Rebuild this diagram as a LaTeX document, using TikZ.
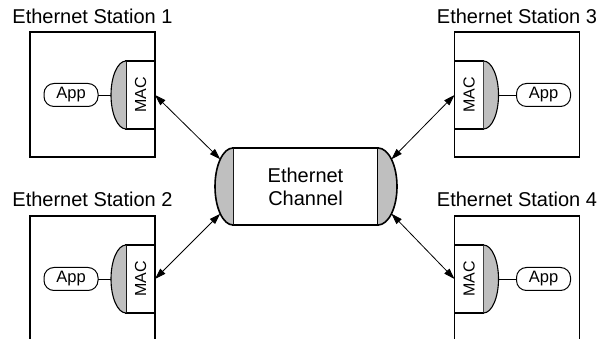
\documentclass[tikz,border=0pt]{standalone}
\usepackage{fontspec}
\setmainfont{Liberation Sans}
\usetikzlibrary{positioning,arrows.meta}

\begin{document}
\begin{tikzpicture}[x=1pt, y=1pt, every node/.style={outer sep=0pt},
        station/.style={rectangle, draw, line width=1.6pt, minimum width=125pt, inner sep=0pt},
        mac/.style={rectangle, draw, line width=1.1pt, minimum width=29pt, minimum height=68pt,
            inner sep=0pt, font=\fontsize{16}{18}\selectfont},
        app/.style={rectangle, rounded corners=10pt, draw, line width=1pt, minimum width=54pt,
            minimum height=23pt, inner sep=0pt, font=\fontsize{16.5}{18}\selectfont},
        title/.style={anchor=base, inner sep=0pt, font=\fontsize{20}{23}\selectfont},
        link/.style={line width=0.8pt, {Triangle[length=11pt,width=7pt]}-{Triangle[length=11pt,width=7pt]}},
        shade/.style={draw, line width=1.1pt, fill=black!25}]
    \useasboundingbox (0,0) rectangle (601,339);
    % stations
    \node[station, minimum height=125pt] (st1) at (92.5,244.5) {};
    \node[station, minimum height=125pt] (st3) at (517,244.5) {};
    \node[station, minimum height=160pt] (st2) at (92.5,43) {};
    \node[station, minimum height=160pt] (st4) at (517,43) {};
    \node[title] (name1) at ([yshift=8pt]st1.north) {Ethernet Station 1};
    \node[title] (name2) at ([yshift=9pt]st2.north) {Ethernet Station 2};
    \node[title] (name3) at ([yshift=8pt]st3.north) {Ethernet Station 3};
    \node[title] (name4) at ([yshift=9pt]st4.north) {Ethernet Station 4};
    % MAC blocks
    \node[mac, anchor=north east] (mac1) at ([yshift=-29pt]st1.north east) {\rotatebox{90}{MAC}};
    \node[mac, anchor=north east] (mac2) at ([yshift=-29pt]st2.north east) {\rotatebox{90}{MAC}};
    \node[mac, anchor=north west] (mac3) at ([yshift=-29pt]st3.north west) {\rotatebox{90}{MAC}};
    \node[mac, anchor=north west] (mac4) at ([yshift=-29pt]st4.north west) {\rotatebox{90}{MAC}};
    \draw[shade] (mac1.north west) arc[start angle=90, end angle=270, x radius=15pt, y radius=34pt];
    \draw[shade] (mac2.north west) arc[start angle=90, end angle=270, x radius=15pt, y radius=34pt];
    \draw[shade] (mac3.north east) arc[start angle=90, end angle=-90, x radius=15pt, y radius=34pt];
    \draw[shade] (mac4.north east) arc[start angle=90, end angle=-90, x radius=15pt, y radius=34pt];
    % applications
    \node[app, left=28pt of mac1] (app1) {App};
    \node[app, left=28pt of mac2] (app2) {App};
    \node[app, right=33pt of mac3] (app3) {App};
    \node[app, right=33pt of mac4] (app4) {App};
    \draw[line width=0.8pt] (app1.east) -- ([xshift=-15pt]mac1.west);
    \draw[line width=0.8pt] (app2.east) -- ([xshift=-15pt]mac2.west);
    \draw[line width=0.8pt] (app3.west) -- ([xshift=15pt]mac3.east);
    \draw[line width=0.8pt] (app4.west) -- ([xshift=15pt]mac4.east);
    % channel
    \node[rectangle, draw, line width=1.6pt, minimum width=145pt, minimum height=77pt, align=center,
        font=\fontsize{20}{23}\selectfont] (chan) at (305.5,152.5) {Ethernet\\Channel};
    \draw[shade, line width=1.6pt] (chan.north west) arc[start angle=90, end angle=270, x radius=18pt, y radius=38.5pt];
    \draw[shade, line width=1.6pt] (chan.north east) arc[start angle=90, end angle=-90, x radius=19pt, y radius=38.5pt];
    \coordinate (ch1) at ([shift={(135:18pt and 38.5pt)}]chan.west);
    \coordinate (ch2) at ([shift={(225:18pt and 38.5pt)}]chan.west);
    \coordinate (ch3) at ([shift={(45:19pt and 38.5pt)}]chan.east);
    \coordinate (ch4) at ([shift={(-45:19pt and 38.5pt)}]chan.east);
    \draw[link] (mac1.east) -- (ch1);
    \draw[link] (mac2.east) -- (ch2);
    \draw[link] (mac3.west) -- (ch3);
    \draw[link] (mac4.west) -- (ch4);
\end{tikzpicture}
\end{document}
